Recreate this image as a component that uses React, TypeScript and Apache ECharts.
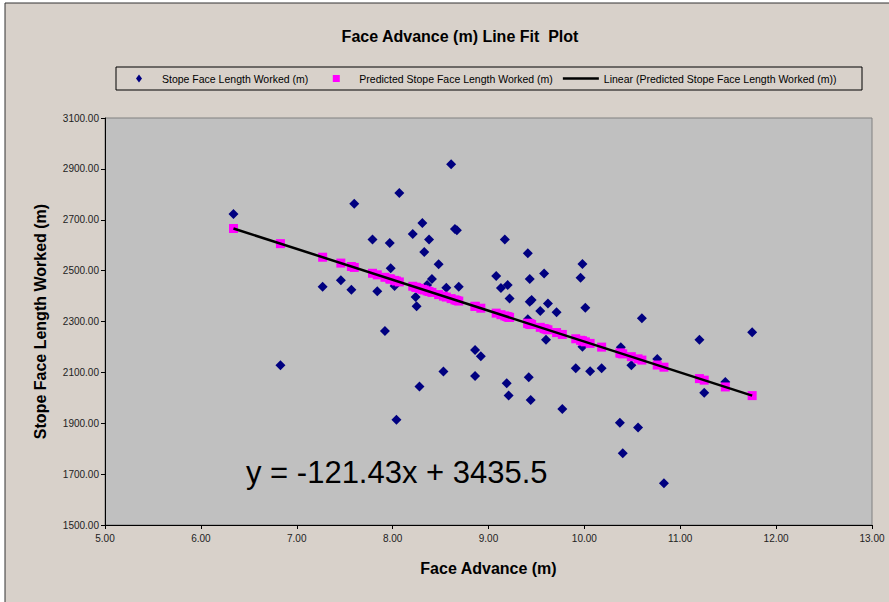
import React, { useEffect, useRef } from "react";
import * as echarts from "echarts";

const faceAdvance = [
  6.34, 6.83, 7.27, 7.46, 7.57, 7.6, 7.79, 7.84, 7.92, 7.97, 7.98, 8.02,
  8.04, 8.07, 8.21, 8.24, 8.25, 8.28, 8.31, 8.33, 8.36, 8.38, 8.41, 8.48,
  8.53, 8.56, 8.61, 8.65, 8.67, 8.69, 8.86, 8.86, 8.92, 9.08, 9.13, 9.17,
  9.19, 9.2, 9.21, 9.22, 9.41, 9.41, 9.42, 9.43, 9.43, 9.44, 9.45, 9.54,
  9.58, 9.6, 9.62, 9.71, 9.77, 9.91, 9.96, 9.98, 9.98, 10.01, 10.06, 10.18,
  10.37, 10.38, 10.4, 10.49, 10.56, 10.6, 10.76, 10.83, 11.2, 11.25, 11.47, 11.75,
];

const stopeLength = [
  2723, 2128, 2437, 2462, 2425, 2763, 2622, 2419, 2263, 2609, 2509, 2440,
  1914, 2805, 2644, 2396, 2360, 2044, 2687, 2573, 2443, 2622, 2467, 2525,
  2103, 2433, 2918, 2664, 2659, 2437, 2188, 2086, 2163, 2479, 2432, 2622,
  2057, 2443, 2009, 2390, 2568, 2309, 2081, 2467, 2378, 1991, 2385, 2341,
  2489, 2228, 2371, 2336, 1956, 2116, 2472, 2526, 2201, 2354, 2104, 2116,
  1902, 2199, 1782, 2128, 1883, 2313, 2153, 1664, 2228, 2020, 2062, 2258,
];

const predictedLength = [
  2665.6, 2606.1, 2552.7, 2529.6, 2516.3, 2512.6, 2489.6, 2483.5, 2473.8, 2467.7, 2466.5, 2461.6,
  2459.2, 2455.6, 2438.6, 2434.9, 2433.7, 2430.1, 2426.4, 2424.0, 2420.4, 2417.9, 2414.3, 2405.8,
  2399.7, 2396.1, 2390.0, 2385.1, 2382.7, 2380.3, 2359.6, 2359.6, 2352.3, 2332.9, 2326.8, 2322.0,
  2319.6, 2318.3, 2317.1, 2315.9, 2292.8, 2292.8, 2291.6, 2290.4, 2290.4, 2289.2, 2288.0, 2277.1,
  2272.2, 2269.8, 2267.3, 2256.4, 2249.1, 2232.1, 2226.1, 2223.6, 2223.6, 2220.0, 2213.9, 2199.3,
  2176.3, 2175.1, 2172.6, 2161.7, 2153.2, 2148.3, 2128.9, 2120.4, 2075.5, 2069.4, 2042.7, 2008.7,
];

const trendX = [6.34, 11.75];
const trendY = [2665.6, 2008.7];

const seriesNames = [
  "Stope Face Length Worked (m)",
  "Predicted Stope Face Length Worked (m)",
  "Linear (Predicted Stope Face Length Worked (m))",
];

const titleText = "Face Advance (m) Line Fit  Plot";
const xAxisTitle = "Face Advance (m)";
const yAxisTitle = "Stope Face Length Worked (m)";
const equationText = "y = -121.43x + 3435.5";

const FONT = "'Liberation Sans', Arial, sans-serif";

// legend icons laid out in a 36x8 box (invisible move-to corners keep the box)
const ICON_DIAMOND = "path://M0,0M36,8M18,0L21,4L18,8L15,4Z";
const ICON_SQUARE = "path://M0,0M36,8M14.5,0.5L21.5,0.5L21.5,7.5L14.5,7.5Z";
const ICON_LINE = "path://M0,0M36,8M0,2.8L36,2.8L36,5.2L0,5.2Z";

export default function App() {
  const ref = useRef<HTMLDivElement>(null);

  useEffect(() => {
    if (!ref.current) return;
    const chart = echarts.init(ref.current, null, { renderer: "svg" });
    const actual = faceAdvance.map((x, i) => [x, stopeLength[i]]);
    const predicted = faceAdvance.map((x, i) => [x, predictedLength[i]]);
    const trend = trendX.map((x, i) => [x, trendY[i]]);

    chart.setOption({
      animation: false,
      backgroundColor: "#ffffff",
      textStyle: { fontFamily: FONT },
      title: {
        text: titleText,
        left: 455,
        textAlign: "center",
        top: 23,
        textStyle: { fontSize: 16, fontWeight: "bold", color: "#000", fontFamily: FONT },
      },
      graphic: [
        {
          type: "rect",
          z: -10,
          shape: { x: 5, y: 3, width: 900, height: 620 },
          style: { fill: "#d8d1ca", stroke: "#333333", lineWidth: 1 },
        },
        {
          type: "rect",
          z: -5,
          shape: { x: 116, y: 67, width: 746, height: 23 },
          style: { fill: "#d8d1ca", stroke: "#000000", lineWidth: 1 },
        },
        {
          type: "text",
          x: 246,
          y: 472,
          z: 10,
          style: {
            text: equationText,
            fontSize: 31,
            fontFamily: FONT,
            fill: "#000",
            verticalAlign: "middle",
          },
        },
      ],
      legend: {
        left: 121,
        top: 73,
        padding: 0,
        itemGap: 10,
        itemWidth: 36,
        itemHeight: 8,
        symbolKeepAspect: true,
        textStyle: { fontSize: 10.5, color: "#000", fontFamily: FONT },
        data: [
          { name: seriesNames[0], icon: ICON_DIAMOND, itemStyle: { color: "#000080" } },
          { name: seriesNames[1], icon: ICON_SQUARE, itemStyle: { color: "#ff00ff" } },
          { name: seriesNames[2], icon: ICON_LINE, itemStyle: { color: "#000" } },
        ],
      },
      grid: {
        left: 105,
        right: 17,
        top: 118,
        bottom: 77,
        show: true,
        backgroundColor: "#c0c0c0",
        borderColor: "#808080",
        borderWidth: 1,
        containLabel: false,
      },
      xAxis: {
        type: "value",
        min: 5,
        max: 13,
        interval: 1,
        name: xAxisTitle,
        nameLocation: "middle",
        nameGap: 35,
        nameTextStyle: { fontSize: 16, fontWeight: "bold", color: "#000", fontFamily: FONT },
        axisLine: { show: true, onZero: false, lineStyle: { color: "#000", width: 1 } },
        axisTick: { show: true, length: 4, lineStyle: { color: "#000" } },
        axisLabel: {
          fontSize: 10,
          color: "#222",
          margin: 8,
          formatter: (v: number) => v.toFixed(2),
        },
        splitLine: { show: false },
      },
      yAxis: {
        type: "value",
        min: 1500,
        max: 3100,
        interval: 200,
        name: yAxisTitle,
        nameLocation: "middle",
        nameGap: 57,
        nameTextStyle: { fontSize: 16, fontWeight: "bold", color: "#000", fontFamily: FONT },
        axisLine: { show: true, onZero: false, lineStyle: { color: "#000", width: 1 } },
        axisTick: { show: true, length: 4, lineStyle: { color: "#000" } },
        axisLabel: {
          fontSize: 10,
          color: "#222",
          margin: 6,
          formatter: (v: number) => v.toFixed(2),
        },
        splitLine: { show: false },
      },
      series: [
        {
          name: seriesNames[0],
          type: "scatter",
          symbol: "diamond",
          symbolSize: 10,
          itemStyle: { color: "#000080", opacity: 1 },
          data: actual,
          z: 2,
        },
        {
          name: seriesNames[1],
          type: "scatter",
          symbol: "rect",
          symbolSize: 9,
          itemStyle: { color: "#ff00ff", opacity: 1 },
          data: predicted,
          z: 3,
        },
        {
          name: seriesNames[2],
          type: "line",
          symbol: "none",
          showSymbol: false,
          lineStyle: { color: "#000", width: 2.5 },
          itemStyle: { color: "#000" },
          data: trend,
          z: 4,
        },
      ],
    });

    return () => chart.dispose();
  }, []);

  return (
    <div
      ref={ref}
      style={{ position: "fixed", left: 0, top: 0, width: 889, height: 602 }}
    />
  );
}
